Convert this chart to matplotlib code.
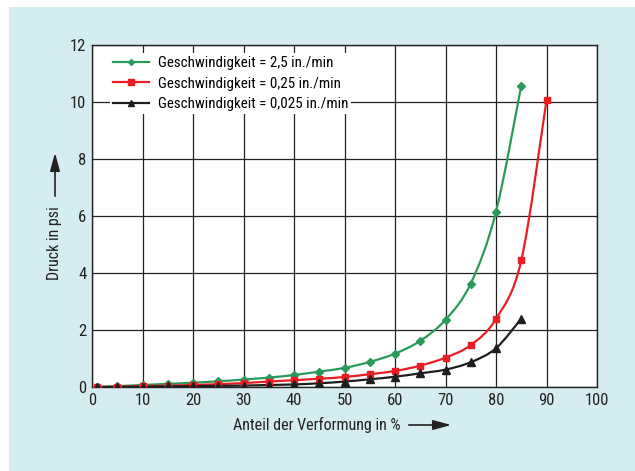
import matplotlib.pyplot as plt
from matplotlib.path import Path
from matplotlib.patches import PathPatch, Rectangle
from matplotlib import font_manager

# Verformung in %
x_green = [1, 5, 10, 15, 20, 25, 30, 35, 40, 45, 50, 55, 60, 65, 70, 75, 80, 85]
x_red = [1, 5, 10, 15, 20, 25, 30, 35, 40, 45, 50, 55, 60, 65, 70, 75, 80, 85, 90]
x_black = [1, 5, 10, 15, 20, 25, 30, 35, 40, 45, 50, 55, 60, 65, 70, 75, 80, 85]

# Druck in psi
y_green = [0.0, 0.03, 0.07, 0.11, 0.15, 0.2, 0.26, 0.33, 0.42, 0.54, 0.67, 0.88,
           1.17, 1.62, 2.36, 3.63, 6.15, 10.57]
y_red = [0.0, 0.01, 0.03, 0.05, 0.07, 0.1, 0.14, 0.19, 0.24, 0.29, 0.35, 0.45,
         0.56, 0.75, 1.03, 1.47, 2.39, 4.44, 10.06]
y_black = [0.0, 0.0, 0.01, 0.02, 0.03, 0.04, 0.05, 0.07, 0.09, 0.13, 0.19, 0.27,
           0.36, 0.48, 0.61, 0.87, 1.36, 2.4]

labels = ["Geschwindigkeit = 2,5 in./min",
          "Geschwindigkeit = 0,25 in./min",
          "Geschwindigkeit = 0,025 in./min"]

GREEN = "#2a9a5c"
RED = "#ec1c24"
BLACK = "#1e1e1e"
BG = "#d5edf1"

names = sorted({f.name for f in font_manager.fontManager.ttflist})
fam = "Roboto"
for cand in ["Liberation Sans Narrow", "Roboto Condensed", "DejaVu Sans Condensed"]:
    if cand in names:
        fam = cand
        break
plt.rcParams['font.family'] = [fam, 'DejaVu Sans']


def smooth_path(xs, ys):
    # Catmull-Rom through the points, drawn as cubic bezier segments
    pts = list(zip(xs, ys))
    verts = [pts[0]]
    codes = [Path.MOVETO]
    n = len(pts)
    for i in range(n - 1):
        p0 = pts[i - 1] if i > 0 else pts[i]
        p1 = pts[i]
        p2 = pts[i + 1]
        p3 = pts[i + 2] if i + 2 < n else pts[i + 1]
        c1 = (p1[0] + (p2[0] - p0[0]) / 6, p1[1] + (p2[1] - p0[1]) / 6)
        c2 = (p2[0] - (p3[0] - p1[0]) / 6, p2[1] - (p3[1] - p1[1]) / 6)
        verts += [c1, c2, p2]
        codes += [Path.CURVE4] * 3
    return Path(verts, codes)


fig = plt.figure(figsize=(6.35, 4.71), dpi=100)
fig.patch.set_facecolor("white")
fig.patches.append(Rectangle((9 / 635, 0), 1, 464 / 471, transform=fig.transFigure,
                             facecolor=BG, edgecolor="none", zorder=-10))

ax = fig.add_axes([92 / 635, 1 - 387 / 471, 505 / 635, 342 / 471])
ax.set_facecolor("white")
ax.set_xlim(0, 100)
ax.set_ylim(0, 12)
ax.set_xticks(range(0, 101, 10))
ax.set_yticks(range(0, 13, 2))
ax.grid(True, color="#222222", linewidth=0.9)
ax.set_axisbelow(True)
ax.tick_params(length=0, pad=4, labelsize=12, colors="#222222")
for s in ax.spines.values():
    s.set_color("#222222")
    s.set_linewidth(1.0)

series = [
    (x_green, y_green, GREEN, "D", 4),
    (x_red, y_red, RED, "s", 5),
    (x_black, y_black, BLACK, "^", 5.5),
]
handles = []
for (xs, ys, col, mk, ms), lab in zip(series, labels):
    ax.add_patch(PathPatch(smooth_path(xs, ys), facecolor="none", edgecolor=col,
                           linewidth=1.6, zorder=3, clip_on=True))
    ax.plot(xs, ys, linestyle="none", marker=mk, markersize=ms, color=col, zorder=4)
    h, = ax.plot([], [], color=col, marker=mk, markersize=ms - 1, linewidth=1.6)
    handles.append(h)

leg = ax.legend(handles, labels, loc="upper left", bbox_to_anchor=(0.02, 0.998),
                frameon=True, fancybox=False, framealpha=1, edgecolor="white",
                fontsize=10.8, handlelength=2.4, handletextpad=0.6, labelspacing=0.43,
                borderpad=0.2)
leg.get_frame().set_linewidth(0)

# axis titles with arrows
fig.text(233 / 635, 1 - 425 / 471, "Anteil der Verformung in %", fontsize=11.5,
         ha="left", va="center", color="#222222")
ax.annotate("", xy=(454 / 635, 1 - 425 / 471), xytext=(406 / 635, 1 - 425 / 471),
            xycoords="figure fraction",
            arrowprops=dict(arrowstyle="-|>,head_length=1.1,head_width=0.3",
                            color="#222222", lw=1.2))
fig.text(55 / 635, 1 - 243 / 471, "Druck in psi", fontsize=11.5, rotation=90,
         ha="center", va="center", color="#222222")
ax.annotate("", xy=(55 / 635, 1 - 150 / 471), xytext=(55 / 635, 1 - 199 / 471),
            xycoords="figure fraction",
            arrowprops=dict(arrowstyle="-|>,head_length=1.1,head_width=0.3",
                            color="#222222", lw=1.2))

fig.savefig("out.png", dpi=100)
